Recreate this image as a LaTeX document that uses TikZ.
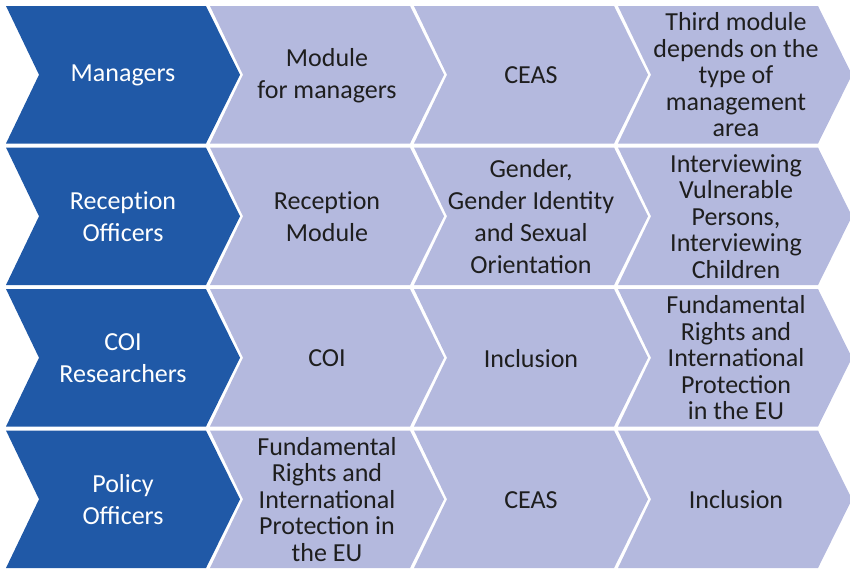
\documentclass[tikz,border=0pt]{standalone}
\usepackage{fontspec}
\setmainfont{Carlito}
\definecolor{darkchev}{RGB}{32,89,167}
\definecolor{lightchev}{RGB}{180,185,222}
\definecolor{txt}{RGB}{30,30,30}
\tikzset{
  lbl/.style={align=center, inner sep=0pt, text=txt, font=\fontsize{26}{32}\selectfont},
  lbltight/.style={lbl, font=\fontsize{26}{26.5}\selectfont},
  lblwhite/.style={lbl, text=white},
}
\newcommand{\chev}[3]{% col, row, color
  \pgfmathsetmacro{\L}{6+204*#1}
  \pgfmathsetmacro{\T}{6+141.5*#2}
  \fill[#3] (\L,\T) -- ++(200,0) -- ++(34,68.75) -- ++(-34,68.75) -- ++(-200,0) -- ++(33,-68.75) -- cycle;
}
\newcommand{\recep}{Recep\mbox{t}ion}
\begin{document}
\begin{tikzpicture}[x=1pt,y=-1pt]
\useasboundingbox (0,0) rectangle (850,568);
\foreach \r in {0,1,2,3}{
  \chev{0}{\r}{darkchev}
  \foreach \c in {1,2,3}{ \chev{\c}{\r}{lightchev} }
}
% row 1
\node[lblwhite] (m1) at (123,75.5) {Managers};
\node[lbl] (m2) at (327,75.5) {Module\\for managers};
\node[lbl] (m3) at (531,75.5) {CEAS};
\node[lbltight] (m4) at (736,75) {Third module\\depends on the\\type of\\management\\area};
% row 2
\node[lblwhite] (r1) at (123,217) {\recep\\Officers};
\node[lbl] (r2) at (327,217) {\recep\\Module};
\node[lbl] (r3) at (531,217) {Gender,\\Gender Identity\\and Sexual\\Orientation};
\node[lbltight] (r4) at (736,216.5) {Interviewing\\Vulnerable\\Persons,\\Interviewing\\Children};
% row 3
\node[lblwhite] (c1) at (123,358.5) {COI\\Researchers};
\node[lbl] (c2) at (327,358.5) {COI};
\node[lbl] (c3) at (531,358.5) {Inclusion};
\node[lbltight] (c4) at (736,358) {Fundamental\\Rights and\\International\\Protection\\in the EU};
% row 4
\node[lblwhite] (p1) at (123,500) {Policy\\Officers};
\node[lbltight] (p2) at (327,499.5) {Fundamental\\Rights and\\International\\Protection in\\the EU};
\node[lbl] (p3) at (531,500) {CEAS};
\node[lbl] (p4) at (736,500) {Inclusion};
\end{tikzpicture}
\end{document}
